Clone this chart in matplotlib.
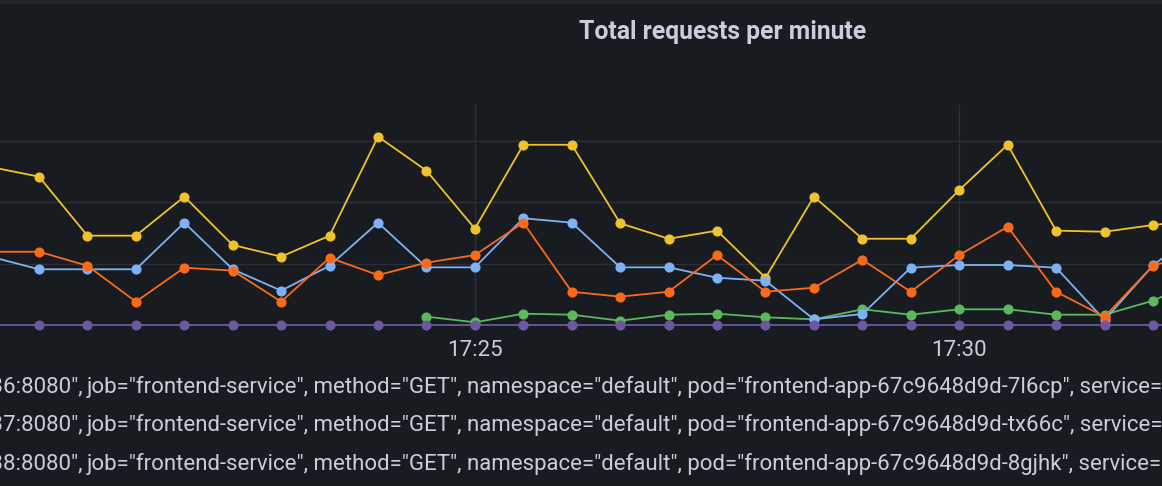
import numpy as np
import pandas as pd
import matplotlib
matplotlib.use("Agg")
import matplotlib.pyplot as plt
import matplotlib.dates as mdates
from matplotlib.patches import Rectangle

plt.rcParams['font.family'] = ['Roboto', 'DejaVu Sans']

W, H = 1162, 486
bg = "#181b1f"
text_col = "#ccccdc"
grid_col = "#2c2f35"

# 30 second samples, 17:20:00 .. 17:32:00
times = pd.date_range("2024-01-01 17:20:00", periods=26, freq="30s")

yellow = [12.88, 12.09, 7.28, 7.28, 10.46, 6.52, 5.57, 7.28, 15.35, 12.58, 7.85, 14.69, 14.69,
          8.29, 7.03, 7.69, 3.85, 10.46, 7.03, 7.03, 11.00, 14.69, 7.69, 7.60, 8.15, 8.55]
blue = [5.57, 4.54, 4.54, 4.54, 8.34, 4.54, 2.80, 4.83, 8.34, 4.70, 4.70, 8.70, 8.34,
        4.70, 4.70, 3.85, 3.61, 0.46, 0.90, 4.67, 4.89, 4.89, 4.67, 0.41, 4.85, 7.90]
green = [np.nan] * 9 + [0.68, 0.22, 0.92, 0.84, 0.35, 0.84, 0.92, 0.63, 0.46, 1.28, 0.84,
                        1.28, 1.28, 0.84, 0.84, 1.98, 3.70]
orange = [5.97, 5.97, 4.83, 1.90, 4.67, 4.43, 1.90, 5.48, 4.07, 5.08, 5.70, 8.34, 2.71,
          2.31, 2.71, 5.70, 2.71, 3.04, 5.32, 2.71, 5.70, 8.01, 2.71, 0.68, 4.83, 6.00]
purple = [0.0] * 26

series = [
    (yellow, "#f0c22c"),
    (green, "#5cb85c"),
    (blue, "#7eb2f8"),
    (orange, "#fa6a1a"),
    (purple, "#6d57a0"),
]

legend_prefix = ['{instance="10.0.0.36:8080",', '{instance="10.0.0.37:8080",', '{instance="10.0.0.38:8080",']
legend_rest = [
    'job="frontend-service", method="GET", namespace="default", pod="frontend-app-67c9648d9d-7l6cp", service="frontend-service"}',
    'job="frontend-service", method="GET", namespace="default", pod="frontend-app-67c9648d9d-tx66c", service="frontend-service"}',
    'job="frontend-service", method="GET", namespace="default", pod="frontend-app-67c9648d9d-8gjhk", service="frontend-service"}',
]

fig = plt.figure(figsize=(W / 100, H / 100), dpi=100, facecolor=bg)
fig.patches.append(Rectangle((0, 1 - 3 / H), 1, 3 / H, transform=fig.transFigure,
                             color="#23262c", zorder=0))

ax = fig.add_axes([0, (H - 325) / H, 1, (325 - 105) / H])
ax.set_facecolor(bg)

for vals, col in series:
    ax.plot(times, vals, color=col, lw=1.3, marker="o", ms=6.3, clip_on=False)

ax.set_ylim(0, 17.93)
ax.set_xlim(times[1] - pd.Timedelta(seconds=24.16), times[1] + pd.Timedelta(seconds=695.6))

ax.set_yticks([5, 10, 15])
ax.set_yticklabels([])
ax.xaxis.set_major_locator(mdates.MinuteLocator(byminute=[25, 30]))
ax.xaxis.set_major_formatter(mdates.DateFormatter("%H:%M"))
ax.tick_params(length=0, colors=text_col, labelsize=16, pad=10.5)
ax.grid(True, color=grid_col, lw=1)
ax.set_axisbelow(True)
for s in ax.spines.values():
    s.set_visible(False)

fig.text(723 / W, 1 - 32 / H, "Total requests per minute", ha="center", va="center",
         fontsize=17.8, fontweight="bold", color=text_col)

baselines = [393, 431, 470]
for pre, rest, yb in zip(legend_prefix, legend_rest, baselines):
    fig.text(83 / W, 1 - yb / H, pre, ha="right", va="baseline", fontsize=16, color=text_col)
    fig.text(87 / W, 1 - yb / H, rest, ha="left", va="baseline", fontsize=16, color=text_col)

fig.savefig("out.png", dpi=100, facecolor=bg)
